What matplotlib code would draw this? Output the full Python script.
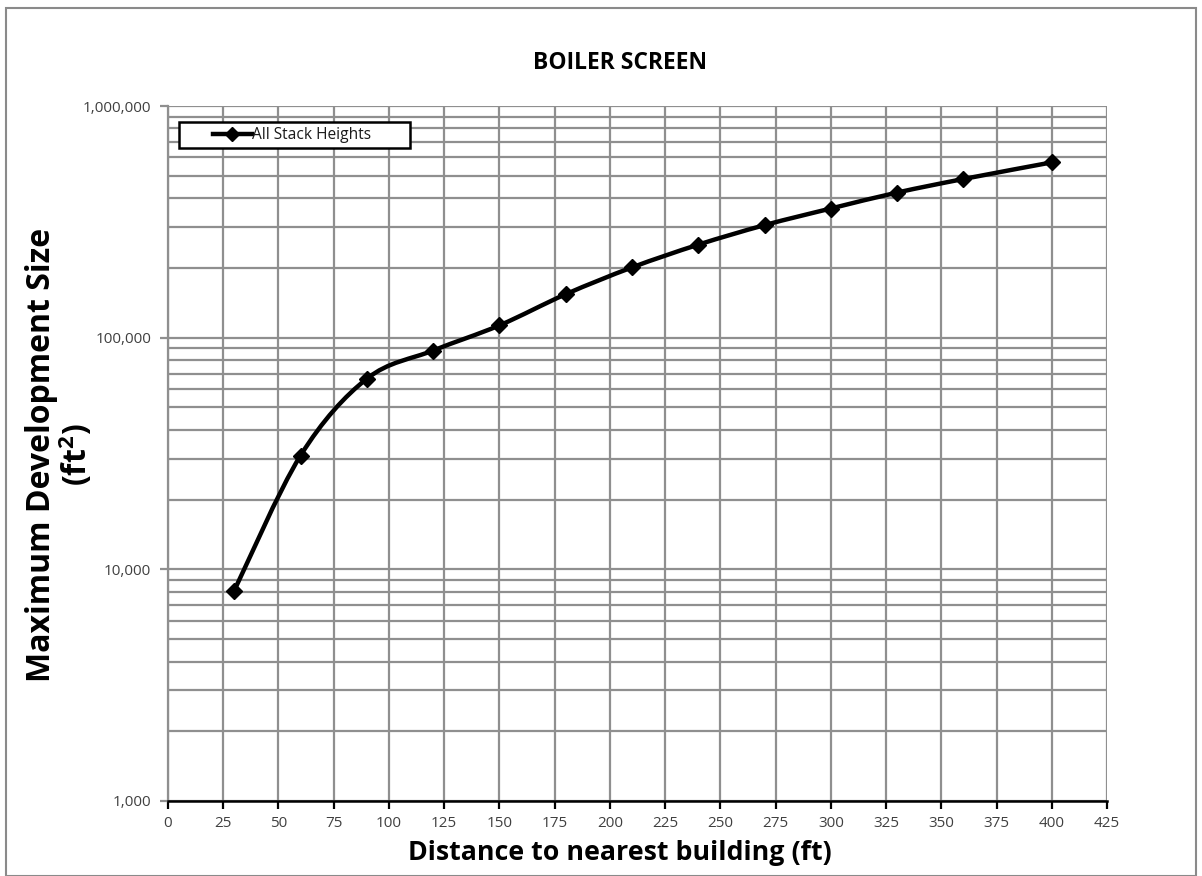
import numpy as np
import matplotlib
matplotlib.use("Agg")
import matplotlib.pyplot as plt
from matplotlib.path import Path
from matplotlib.patches import PathPatch, Rectangle
from matplotlib.ticker import FixedLocator, LogLocator, NullFormatter, FuncFormatter
from matplotlib.lines import Line2D

# ---- data ----
distance_ft = [30, 60, 90, 120, 150, 180, 210, 240, 270, 300, 330, 360, 400]
max_dev_size = [8100, 31000, 66500, 88000, 113000, 154000, 201000, 252000,
                306000, 361000, 423000, 484000, 571000]
series_name = "All Stack Heights"
title = "BOILER SCREEN"
xlabel = "Distance to nearest building (ft)"
ylabel = "Maximum Development Size\n(ft$^{\\mathbf{2}}$)"
x_ticks = list(range(0, 426, 25))
y_ticks = [1000, 10000, 100000, 1000000]

plt.rcParams['font.family'] = ['Open Sans', 'DejaVu Sans']
plt.rcParams['mathtext.fontset'] = 'custom'
plt.rcParams['mathtext.rm'] = 'Open Sans'
plt.rcParams['mathtext.bf'] = 'Open Sans:bold'

W, H = 1202, 876
fig = plt.figure(figsize=(W / 100, H / 100), dpi=100)
L, R, T, B = 168, 1107, 106, 801
ax = fig.add_axes([L / W, 1 - B / H, (R - L) / W, (B - T) / H])

ax.set_yscale('log')
ax.set_xlim(0, 425)
ax.set_ylim(1000, 1000000)

grid_c = '#8f8f8f'
ax.xaxis.set_major_locator(FixedLocator(x_ticks))
ax.yaxis.set_major_locator(FixedLocator(y_ticks))
ax.yaxis.set_minor_locator(LogLocator(base=10, subs=np.arange(2, 10)))
ax.yaxis.set_minor_formatter(NullFormatter())
ax.yaxis.set_major_formatter(FuncFormatter(lambda v, p: f"{int(round(v)):,}"))
ax.grid(True, which='major', axis='both', color=grid_c, lw=1.6)
ax.grid(True, which='minor', axis='y', color=grid_c, lw=1.6)
ax.set_axisbelow(True)

for s in ['top', 'right']:
    ax.spines[s].set_visible(False)
ax.spines['left'].set_color(grid_c)
ax.spines['left'].set_linewidth(1.6)
ax.spines['bottom'].set_color('black')
ax.spines['bottom'].set_linewidth(1.8)

ax.tick_params(axis='x', which='major', length=6, width=1.6, color='black',
               labelsize=11, labelcolor='#404040', pad=5)
ax.tick_params(axis='y', which='major', length=6, width=1.6, color=grid_c,
               labelsize=11, labelcolor='#404040', pad=6)
ax.tick_params(axis='y', which='minor', length=0)

# smoothed line (Excel-style) via Bezier segments in (x, log y) space
xs = np.array(distance_ft, dtype=float)
ly = np.log10(np.array(max_dev_size, dtype=float))
pts = np.column_stack([xs, ly])
n = len(pts)
verts = [pts[0]]
codes = [Path.MOVETO]
for i in range(n - 1):
    p0 = pts[i - 1] if i > 0 else pts[i]
    p1 = pts[i]
    p2 = pts[i + 1]
    p3 = pts[i + 2] if i + 2 < n else pts[i + 1]
    c1 = p1 + (p2 - p0) / 6.0
    c2 = p2 - (p3 - p1) / 6.0
    verts += [c1, c2, p2]
    codes += [Path.CURVE4] * 3
verts = np.array(verts)
verts[:, 1] = 10 ** verts[:, 1]
path = Path(verts, codes)
ax.add_patch(PathPatch(path, facecolor='none', edgecolor='black', lw=3.2,
                       transform=ax.transData, zorder=3, capstyle='round',
                       joinstyle='round'))
ax.plot(distance_ft, max_dev_size, linestyle='none', marker='D', color='black',
        markersize=8.5, zorder=4)

# legend: box drawn as a rectangle, content centred inside it
lx0, lx1, ly0, ly1 = 179, 410, 122, 148
box_ax = [(lx0 - L) / (R - L), 1 - (ly1 - T) / (B - T),
          (lx1 - lx0) / (R - L), (ly1 - ly0) / (B - T)]
ax.add_patch(Rectangle((box_ax[0], box_ax[1]), box_ax[2], box_ax[3],
                       transform=ax.transAxes, facecolor='white',
                       edgecolor='black', lw=1.8, zorder=5))
handle = Line2D([], [], color='black', lw=3.2, marker='D', markersize=7)
leg = ax.legend([handle], [series_name], loc='center',
                bbox_to_anchor=(box_ax[0] + box_ax[2] / 2 - 0.003,
                                box_ax[1] + box_ax[3] / 2),
                frameon=False, fontsize=11.2, handlelength=2.5,
                handletextpad=0.0, borderpad=0, borderaxespad=0)
leg.set_zorder(6)
for t in leg.get_texts():
    t.set_color('#1a1a1a')

# title
fig.text(620 / W, 1 - 63 / H, title, ha='center', va='center',
         fontsize=16.5, fontweight='bold')

# axis labels
fig.text(620 / W, 1 - 853 / H, xlabel, ha='center', va='center',
         fontsize=19.3, fontweight='bold')
fig.text(60 / W, 1 - 455 / H, ylabel, ha='center', va='center',
         fontsize=23, fontweight='bold', rotation=90, linespacing=1.0,
         multialignment='center')

# figure border
fig.add_artist(Rectangle((6 / W, 0), (1196 - 6) / W, 1 - 8 / H,
                         transform=fig.transFigure, fill=False,
                         edgecolor='#8a8a8a', lw=1.5))

fig.savefig('out.png', dpi=100, facecolor='white')
